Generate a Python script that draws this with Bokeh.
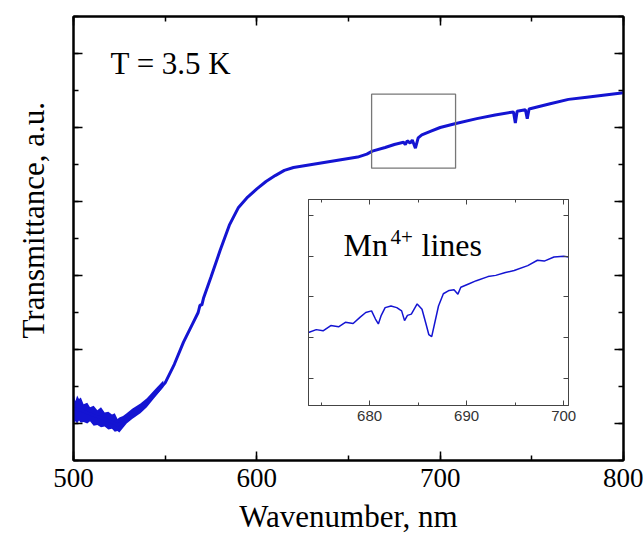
from math import pi
from bokeh.plotting import figure
from bokeh.models import (Range1d, LinearAxis, SingleIntervalTicker, Label, ColumnDataSource,
                          CustomJSTickFormatter)
from bokeh.layouts import column
from bokeh.embed import file_html
from bokeh.resources import INLINE

# ---------------- data ----------------
wavelength_nm = [500, 504, 508, 512, 516, 520, 524, 528, 532, 536, 540, 545, 550, 555, 560,
                 565, 568, 569, 570, 571, 575, 580, 585, 590, 595, 600, 605, 610, 615, 620,
                 630, 640, 650, 655, 660, 663, 670, 675, 680, 681, 682, 683.6, 684.8, 686.5,
                 688, 690, 695, 700, 708, 720, 730, 740, 741, 742, 746.5, 747.5, 748.5, 760,
                 770, 780, 790, 800]
transmittance = [0.20, 0.18, 0.14, 0.10, 0.07, 0.03, -0.02, 0.03, 0.13, 0.20, 0.28, 0.41, 0.55, 0.80, 1.10,
                 1.35, 1.50, 1.60, 1.60, 1.70, 1.98, 2.34, 2.68, 2.92, 3.06, 3.17, 3.27, 3.35, 3.42, 3.46,
                 3.50, 3.54, 3.58, 3.60, 3.64, 3.68, 3.73, 3.77, 3.80, 3.77, 3.82, 3.79, 3.83, 3.72,
                 3.86, 3.90, 3.95, 4.00, 4.05, 4.12, 4.17, 4.21, 4.06, 4.22, 4.24, 4.12, 4.25, 4.32,
                 4.38, 4.41, 4.44, 4.47]

# noisy low-wavelength part: envelope of the noise band
noise_nm = [500, 501, 502, 503, 504, 505.5, 507.5, 509, 511, 513, 515, 517, 519, 521, 522.5,
            524, 525, 527, 529, 532, 536.5, 540, 544, 549]
noise_low = [0.00, 0.03, 0.00, 0.04, 0.01, 0.02, 0.00, 0.03, -0.03, -0.02, -0.05, -0.04, -0.08, -0.07, -0.11,
             -0.10, -0.12, -0.06, 0.00, 0.06, 0.14, 0.22, 0.34, 0.49]
noise_high = [0.41, 0.30, 0.38, 0.33, 0.35, 0.26, 0.28, 0.22, 0.24, 0.18, 0.22, 0.15, 0.16, 0.12, 0.14,
              0.06, 0.08, 0.10, 0.14, 0.20, 0.27, 0.34, 0.45, 0.58]

inset_nm = [673.7, 674.5, 675.2, 676.0, 676.8, 677.5, 678.3, 679.0, 679.6, 680.2, 680.6, 680.9,
            681.2, 681.6, 682.2, 682.8, 683.3, 683.6, 683.9, 684.3, 684.9, 685.4, 685.8, 686.1,
            686.4, 686.7, 687.1, 687.6, 688.2, 688.7, 689.1, 689.4, 690.2, 691.0, 692.2, 693.0,
            694.0, 694.9, 696.3, 697.3, 698.0, 699.0, 700.0, 700.5]
inset_t = [1.13, 1.20, 1.17, 1.30, 1.27, 1.38, 1.35, 1.50, 1.62, 1.66, 1.46, 1.34,
           1.55, 1.74, 1.78, 1.74, 1.66, 1.42, 1.55, 1.58, 1.83, 1.70, 1.35, 1.08,
           1.03, 1.35, 1.78, 2.08, 2.16, 2.18, 2.07, 2.24, 2.32, 2.40, 2.50, 2.53,
           2.60, 2.65, 2.77, 2.90, 2.88, 2.98, 3.00, 2.98]

zoom_box_nm = [662.6, 708.4]
zoom_box_t = [3.45, 4.45]

BLUE = "#1414d2"
SERIF = "Liberation Serif"
blank = CustomJSTickFormatter(code="return ''")

# ---------------- main figure ----------------
W, H = 643, 542
p = figure(width=W, height=H, x_range=Range1d(500, 800), y_range=Range1d(-0.5, 5.5),
           output_backend="svg", toolbar_location=None,
           min_border_left=73, min_border_right=20, min_border_top=16, min_border_bottom=82)
p.grid.visible = False
p.outline_line_color = "black"
p.outline_line_width = 2
p.background_fill_color = "white"
p.border_fill_color = "white"

p.add_layout(LinearAxis(), "above")
p.add_layout(LinearAxis(), "right")

for ax in p.xaxis:
    ax.ticker = SingleIntervalTicker(interval=100, num_minor_ticks=2)
for ax in p.yaxis:
    ax.ticker = SingleIntervalTicker(interval=1, num_minor_ticks=2)

for ax in p.xaxis + p.yaxis:
    ax.axis_line_color = "black"
    ax.axis_line_width = 2
    ax.major_tick_in = 9
    ax.major_tick_out = 0
    ax.minor_tick_in = 5
    ax.minor_tick_out = 0
    ax.major_tick_line_width = 1.5
    ax.minor_tick_line_width = 1.5
    ax.major_tick_line_color = "black"
    ax.minor_tick_line_color = "black"
    ax.major_label_text_font = SERIF
    ax.major_label_text_color = "black"

for ax in p.above + p.left + p.right:
    ax.formatter = blank
    ax.major_label_text_font_size = "1px"
    ax.major_label_standoff = 0

xax = p.below[0]
xax.major_label_text_font_size = "27px"
xax.major_label_standoff = 8
xax.axis_label = "Wavenumber, nm"
xax.axis_label_text_font = SERIF
xax.axis_label_text_font_size = "31px"
xax.axis_label_text_font_style = "normal"
xax.axis_label_text_color = "black"
xax.axis_label_standoff = 9

nsrc = ColumnDataSource(dict(x=noise_nm, lo=noise_low, hi=noise_high))
p.varea(x="x", y1="lo", y2="hi", source=nsrc, fill_color=BLUE)

src = ColumnDataSource(dict(x=wavelength_nm, y=transmittance))
p.line("x", "y", source=src, line_color=BLUE, line_width=3)

p.quad(left=[zoom_box_nm[0]], right=[zoom_box_nm[1]], bottom=[zoom_box_t[0]], top=[zoom_box_t[1]],
       fill_alpha=0, line_color="#777777", line_width=1.3)

# label position: screen px relative to the plot frame (x from left, y up from bottom)
p.add_layout(Label(x=37, y=397, x_units="screen", y_units="screen", text="T = 3.5 K",
                   text_font=SERIF, text_font_size="31px", text_color="black",
                   text_baseline="alphabetic"))

# ---------------- y-axis title holder (transparent, placed over the left margin) ----------------
YH = 300
ylab = figure(width=73 + 60 + 20, height=YH, x_range=Range1d(0, 1), y_range=Range1d(0, 1),
              output_backend="svg", toolbar_location=None,
              min_border_left=73, min_border_right=20, min_border_top=0, min_border_bottom=0)
ylab.axis.visible = False
ylab.grid.visible = False
ylab.outline_line_color = None
ylab.background_fill_alpha = 0
ylab.border_fill_alpha = 0
ylab.add_layout(Label(x=33, y=30, x_units="screen", y_units="screen", text="Transmittance, a.u.",
                      text_font=SERIF, text_font_size="31px", text_color="black", angle=pi / 2,
                      text_align="left", text_baseline="alphabetic"))
ylab.styles = {"position": "absolute", "left": "-73px", "top": f"{368 - YH}px"}

# ---------------- inset figure ----------------
IW, IH = 73 + 260 + 20, 5 + 206 + 25
q = figure(width=IW, height=IH, x_range=Range1d(673.7, 700.5), y_range=Range1d(-0.66, 4.39),
           output_backend="svg", toolbar_location=None,
           min_border_left=73, min_border_right=20, min_border_top=5, min_border_bottom=25)
q.grid.visible = False
q.outline_line_color = "#444444"
q.outline_line_width = 1
q.background_fill_color = "white"
q.border_fill_alpha = 0
q.add_layout(LinearAxis(), "above")
q.add_layout(LinearAxis(), "right")
for ax in q.xaxis:
    ax.ticker = SingleIntervalTicker(interval=10, num_minor_ticks=2)
for ax in q.yaxis:
    ax.ticker = SingleIntervalTicker(interval=1, num_minor_ticks=0)
for ax in q.xaxis + q.yaxis:
    ax.axis_line_color = "#444444"
    ax.axis_line_width = 1
    ax.major_tick_in = 5
    ax.major_tick_out = 0
    ax.minor_tick_in = 3
    ax.minor_tick_out = 0
    ax.major_tick_line_color = "#444444"
    ax.minor_tick_line_color = "#444444"
    ax.major_label_text_font = "Liberation Sans"
    ax.major_label_text_color = "#333333"
for ax in q.above + q.left + q.right:
    ax.formatter = blank
    ax.major_label_text_font_size = "1px"
    ax.major_label_standoff = 0
q.below[0].major_label_text_font_size = "15px"
q.below[0].major_label_standoff = 5

isrc = ColumnDataSource(dict(x=inset_nm, y=inset_t))
q.line("x", "y", source=isrc, line_color=BLUE, line_width=1.5)

q.add_layout(Label(x=35, y=143, x_units="screen", y_units="screen", text="Mn",
                   text_font=SERIF, text_font_size="32px", text_color="black"))
q.add_layout(Label(x=82, y=162, x_units="screen", y_units="screen", text="4+",
                   text_font=SERIF, text_font_size="21px", text_color="black"))
q.add_layout(Label(x=113, y=143, x_units="screen", y_units="screen", text="lines",
                   text_font=SERIF, text_font_size="32px", text_color="black"))

q.styles = {"position": "absolute", "left": f"{308 - 73}px", "top": "194px"}

layout = column(p, q, ylab)
open("out.html", "w").write(file_html(layout, INLINE))
